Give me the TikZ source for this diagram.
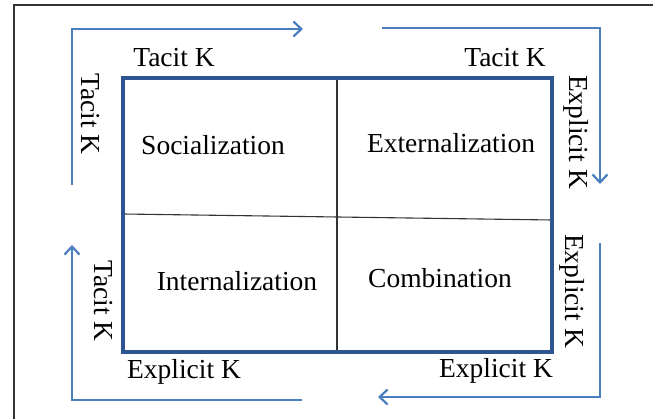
\documentclass[tikz,border=0pt]{standalone}
\usepackage{fontspec}
\setmainfont{Liberation Serif}
\usetikzlibrary{arrows.meta}
\definecolor{boxblue}{HTML}{2D5592}
\definecolor{arrblue}{HTML}{4A7EBF}
\definecolor{frame}{HTML}{333333}
\tikzset{
  lbl/.style={inner sep=0pt, font=\fontsize{27.5}{32}\selectfont},
  vlbl/.style={lbl, rotate=-90},
  flow/.style={draw=arrblue, line width=2.4pt, -{Straight Barb[length=8pt,width=15pt,line width=2.2pt]}},
  grid/.style={draw=black!80, line width=1.1pt},
  outer/.style={draw=boxblue, line width=3.3pt, line join=miter}
}
\begin{document}
\begin{tikzpicture}[x=1pt,y=-1pt]
\useasboundingbox (0,0) rectangle (653,419);
% frame
\draw[frame, line width=1.4pt] (14,419) -- (14,5) -- (653,5);
% box corners
\coordinate (tl) at (123,78);
\coordinate (tr) at (552,78);
\coordinate (br) at (552,352);
\coordinate (bl) at (123,352);
\coordinate (mt) at (337,78);
\coordinate (mb) at (337,352);
\coordinate (ml) at (123,214);
\coordinate (mr) at (552,220);
\draw[grid] (mt) -- (mb);
\draw[grid] (ml) -- (mr);
\draw[outer] (tl) -- (tr) -- (br) -- (bl) -- cycle;
% quadrant labels
\node[lbl] (soc) at (213,145) {Socialization};
\node[lbl] (ext) at (451,143) {Externalization};
\node[lbl] (int) at (237,281) {Internalization};
\node[lbl] (com) at (440,278) {Combination};
% arrows
\coordinate (a1s) at (72,185);
\coordinate (a1c) at (72,29);
\coordinate (a1e) at (303,29);
\draw[flow] (a1s) -- (a1c) -- (a1e);
\coordinate (a2s) at (382,28);
\coordinate (a2c) at (600,28);
\coordinate (a2e) at (600,184);
\draw[flow] (a2s) -- (a2c) -- (a2e);
\coordinate (a3s) at (600,243);
\coordinate (a3c) at (600,397);
\coordinate (a3e) at (378,397);
\draw[flow] (a3s) -- (a3c) -- (a3e);
\coordinate (a4s) at (302,400);
\coordinate (a4c) at (72,400);
\coordinate (a4e) at (72,245);
\draw[flow] (a4s) -- (a4c) -- (a4e);
% K labels
\node[lbl] (t1) at (174,58) {Tacit K};
\node[lbl] (t2) at (505,58) {Tacit K};
\node[vlbl] (t3) at (90,114) {Tacit K};
\node[vlbl] (e1) at (576,132) {Explicit K};
\node[vlbl] (t4) at (103,301) {Tacit K};
\node[vlbl] (e2) at (572,291) {Explicit K};
\node[lbl] (e3) at (184,372) {Explicit K};
\node[lbl] (e4) at (496,371) {Explicit K};
\end{tikzpicture}
\end{document}
